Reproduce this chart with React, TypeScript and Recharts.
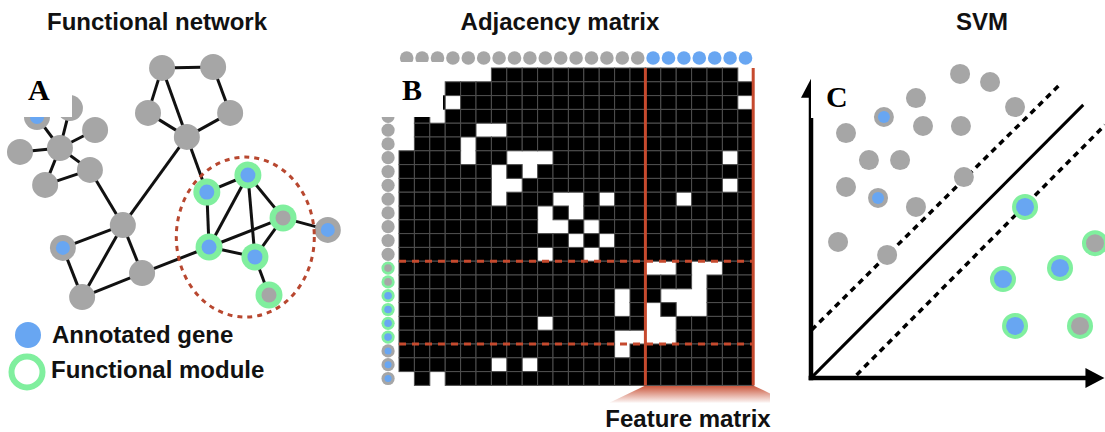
import React from 'react';
import {
  ScatterChart,
  Scatter,
  XAxis,
  YAxis,
  ReferenceLine,
  ReferenceDot,
  ReferenceArea,
} from 'recharts';

const GRAY = '#a6a6a6';
const BLUE = '#68a6f2';
const GREEN = '#80ef9e';
const RED = '#c64a2e';

// kinds: g = gray gene, gb = annotated gene outside module,
// mb = module + annotated, mg = module, not annotated, b = annotated (column header)

// Panel A: functional network, layout units 0-100
const netNodes = [
  { id: 1, x: 43.8, y: 9.3, kind: 'g' },
  { id: 2, x: 57.6, y: 9.0, kind: 'g' },
  { id: 3, x: 40.0, y: 24.3, kind: 'g' },
  { id: 4, x: 62.2, y: 24.3, kind: 'g' },
  { id: 5, x: 50.5, y: 32.3, kind: 'g' },
  { id: 6, x: 18.9, y: 22.7, kind: 'g' },
  { id: 7, x: 10.0, y: 25.7, kind: 'gb' },
  { id: 8, x: 25.7, y: 30.0, kind: 'g' },
  { id: 9, x: 5.4, y: 37.3, kind: 'g' },
  { id: 10, x: 16.2, y: 36.0, kind: 'g' },
  { id: 11, x: 24.3, y: 43.3, kind: 'g' },
  { id: 12, x: 12.2, y: 48.3, kind: 'g' },
  { id: 13, x: 33.2, y: 61.7, kind: 'g' },
  { id: 14, x: 17.0, y: 69.3, kind: 'gb' },
  { id: 15, x: 38.4, y: 77.7, kind: 'g' },
  { id: 16, x: 22.2, y: 85.7, kind: 'g' },
  { id: 17, x: 55.9, y: 50.7, kind: 'mb' },
  { id: 18, x: 67.0, y: 45.0, kind: 'mb' },
  { id: 19, x: 76.5, y: 59.3, kind: 'mg' },
  { id: 20, x: 56.5, y: 69.0, kind: 'mb' },
  { id: 21, x: 68.9, y: 72.3, kind: 'mb' },
  { id: 22, x: 72.7, y: 85.0, kind: 'mg' },
  { id: 23, x: 88.6, y: 63.3, kind: 'gb' },
];

const netEdges = [
  [1, 2], [1, 3], [1, 5], [2, 4], [4, 5], [3, 5], [5, 13], [5, 17],
  [10, 6], [10, 7], [10, 8], [10, 9], [10, 11], [10, 12], [12, 11], [11, 13],
  [13, 14], [13, 16], [13, 15], [14, 16], [15, 16], [15, 20],
  [17, 18], [17, 20], [18, 20], [18, 21], [18, 19], [20, 19], [20, 21],
  [21, 19], [21, 22], [19, 23],
];

const moduleCenter = { x: 66.3, y: 65.7 };

// Panel B: adjacency matrix, 1 = white cell, 0 = black cell
const matrixRows = [
  '11111100000000000000001',
  '11100000000000000000000',
  '11010000000000000000001',
  '10100000000000000000000',
  '10000110000000000000000',
  '10001000000000000000000',
  '00001001110000000000010',
  '00000010100000000000000',
  '00000011000000000000010',
  '00000010001101000010000',
  '00000000010100000000000',
  '00000000011010000000000',
  '00000000000101000000000',
  '00000000010010000000000',
  '00000000000000001101100',
  '00000000000000000001000',
  '00000000000000100111000',
  '00000000000000101011000',
  '00000000010000001100000',
  '00000000000000111100000',
  '00000000000000100000000',
  '00000010100000000000000',
  '10100000000000000000000',
];
const colKinds = [
  'g', 'g', 'g', 'g', 'g', 'g', 'g', 'g', 'g', 'g', 'g', 'g', 'g', 'g', 'g', 'g',
  'b', 'b', 'b', 'b', 'b', 'b', 'b',
];
const rowKinds = [
  'g', 'g', 'g', 'g', 'g', 'g', 'g', 'g', 'g', 'g', 'g', 'g', 'g', 'g',
  'mg', 'mg', 'mb', 'mb', 'mb', 'mb', 'gb', 'gb', 'gb',
];
const featureStart = 16;
const moduleRows = [14, 20];

// Panel C: SVM feature space, units 0-10
const svmPoints = [
  { x: 5.07, y: 9.81, kind: 'g' },
  { x: 6.09, y: 9.55, kind: 'g' },
  { x: 3.57, y: 9.03, kind: 'g' },
  { x: 6.94, y: 8.74, kind: 'g' },
  { x: 1.19, y: 7.9, kind: 'g' },
  { x: 2.48, y: 8.42, kind: 'gb' },
  { x: 3.81, y: 8.13, kind: 'g' },
  { x: 5.1, y: 8.13, kind: 'g' },
  { x: 1.97, y: 7.03, kind: 'g' },
  { x: 3.03, y: 7.03, kind: 'g' },
  { x: 1.19, y: 6.16, kind: 'g' },
  { x: 2.28, y: 5.81, kind: 'gb' },
  { x: 5.2, y: 6.48, kind: 'g' },
  { x: 3.57, y: 5.52, kind: 'g' },
  { x: 0.92, y: 4.39, kind: 'g' },
  { x: 2.59, y: 3.97, kind: 'g' },
  { x: 7.28, y: 5.52, kind: 'mb' },
  { x: 9.66, y: 4.35, kind: 'mg' },
  { x: 8.47, y: 3.55, kind: 'mb' },
  { x: 6.53, y: 3.19, kind: 'mb' },
  { x: 6.94, y: 1.68, kind: 'mb' },
  { x: 9.15, y: 1.68, kind: 'mg' },
];
const hyperplane = [{ x: 0.03, y: 0.03 }, { x: 9.26, y: 8.81 }];
const marginUpper = [{ x: 0.02, y: 1.55 }, { x: 8.53, y: 9.53 }];
const marginLower = [{ x: 1.55, y: 0.1 }, { x: 10, y: 8.16 }];

// matrix geometry
const B_W = 369.6;
const B_H = 331.2;
const CELL_W = B_W / 24;
const CELL_H = B_H / 24;

const matrixCells = matrixRows.flatMap((row, r) =>
  row.split('').map((v, c) => ({ x: c + 0.5, y: r + 0.5, v })).filter((d) => d.v === '0')
);
const topDots = colKinds.map((kind, c) => ({ x: c + 0.5, y: -0.72, kind }));
const sideDots = rowKinds.map((kind, r) => ({ x: -0.71, y: r + 0.5, kind }));

const nodeShape = (rGray: number, rMod: number, inGb: number, inMod: number) => (p: any) => {
  const { cx, cy, payload } = p;
  const k = payload.kind;
  const isMod = k === 'mb' || k === 'mg';
  const outer = isMod ? GREEN : k === 'b' ? BLUE : GRAY;
  const core = k === 'mb' || k === 'gb' ? BLUE : k === 'mg' ? GRAY : null;
  return (
    <g>
      <circle cx={cx} cy={cy} r={isMod ? rMod : rGray} fill={outer} />
      {core && <circle cx={cx} cy={cy} r={isMod ? inMod : inGb} fill={core} />}
    </g>
  );
};

const noDot = () => <g />;

const cellShape = (p: any) => (
  <rect
    x={p.cx - CELL_W / 2}
    y={p.cy - CELL_H / 2}
    width={CELL_W}
    height={CELL_H}
    fill="#000"
    stroke="#4f4f4f"
    strokeWidth={1}
  />
);

const fanShape = (p: any) => {
  const { x, y, width, height } = p;
  return (
    <g>
      <defs>
        <linearGradient id="fan" x1="0" y1="0" x2="0" y2="1">
          <stop offset="0%" stopColor={RED} stopOpacity={0.95} />
          <stop offset="100%" stopColor={RED} stopOpacity={0.05} />
        </linearGradient>
      </defs>
      <polygon
        points={`${x},${y} ${x + width},${y} ${x + width + 36},${y + height} ${x - 36},${y + height}`}
        fill="url(#fan)"
      />
    </g>
  );
};

const titleStyle = (cx: number, top: number): React.CSSProperties => ({
  position: 'absolute',
  left: cx - 200,
  width: 400,
  top,
  textAlign: 'center',
  fontSize: 24,
  lineHeight: '24px',
  fontWeight: 'bold',
  color: '#111',
});

const labelBox = (left: number, top: number, w: number, h: number): React.CSSProperties => ({
  position: 'absolute',
  left,
  top,
  width: w,
  height: h,
  background: '#fff',
});

const labelText = (left: number, top: number): React.CSSProperties => ({
  position: 'absolute',
  left,
  top,
  fontFamily: '"Liberation Serif", "Times New Roman", serif',
  fontWeight: 'bold',
  fontSize: 30,
  lineHeight: '30px',
  color: '#000',
});

export default function App() {
  const byId: Record<number, any> = {};
  netNodes.forEach((n) => (byId[n.id] = n));

  return (
    <div
      style={{
        position: 'absolute',
        left: 0,
        top: 0,
        width: 1105,
        height: 432,
        background: '#fff',
        overflow: 'hidden',
        fontFamily: '"Liberation Sans", Arial, sans-serif',
      }}
    >
      {/* A: network */}
      <div style={{ position: 'absolute', left: 0, top: 40 }}>
        <ScatterChart width={370} height={300} margin={{ top: 0, right: 0, bottom: 0, left: 0 }}>
          <XAxis type="number" dataKey="x" domain={[0, 100]} hide />
          <YAxis type="number" dataKey="y" domain={[0, 100]} reversed hide />
          {netEdges.map(([a, b], i) => (
            <Scatter
              key={'e' + i}
              data={[byId[a], byId[b]]}
              line={{ stroke: '#111', strokeWidth: 3 }}
              shape={noDot}
              isAnimationActive={false}
            />
          ))}
          <Scatter data={netNodes} shape={nodeShape(13, 13.5, 7, 7.5)} isAnimationActive={false} />
          <ReferenceDot
            x={moduleCenter.x}
            y={moduleCenter.y}
            shape={(p: any) => (
              <ellipse
                cx={p.cx}
                cy={p.cy}
                rx={69}
                ry={80}
                fill="none"
                stroke="#b8472f"
                strokeWidth={3}
                strokeDasharray="5 5"
              />
            )}
          />
        </ScatterChart>
      </div>

      {/* B: adjacency matrix */}
      <div style={{ position: 'absolute', left: 370, top: 40 }}>
        <ScatterChart
          width={400}
          height={392}
          margin={{ top: 14.2, right: 16.8, bottom: 46.6, left: 13.6 }}
        >
          <XAxis type="number" dataKey="x" domain={[-1, 23]} hide />
          <YAxis type="number" dataKey="y" domain={[-1, 23]} reversed hide />
          <Scatter data={matrixCells} shape={cellShape} isAnimationActive={false} />
          <Scatter data={topDots} shape={nodeShape(6.8, 6.8, 3.5, 3.8)} isAnimationActive={false} />
          <Scatter data={sideDots} shape={nodeShape(6.6, 6.6, 3.5, 3.8)} isAnimationActive={false} />
          {moduleRows.map((r) => (
            <Scatter
              key={'h' + r}
              data={[{ x: 0, y: r }, { x: 23, y: r }]}
              line={{ stroke: RED, strokeWidth: 3, strokeDasharray: '7 6' }}
              shape={noDot}
              isAnimationActive={false}
            />
          ))}
          {[featureStart, 23].map((c) => (
            <Scatter
              key={'v' + c}
              data={[{ x: c, y: 0 }, { x: c, y: 23 }]}
              line={{ stroke: RED, strokeWidth: 3 }}
              shape={noDot}
              isAnimationActive={false}
            />
          ))}
          <ReferenceArea
            x1={featureStart}
            x2={23}
            y1={23}
            y2={24.25}
            ifOverflow="visible"
            shape={fanShape}
          />
        </ScatterChart>
      </div>

      {/* C: SVM */}
      <div style={{ position: 'absolute', left: 790, top: 40 }}>
        <ScatterChart width={315} height={392} margin={{ top: 28, right: 0, bottom: 54, left: 21 }}>
          <XAxis type="number" dataKey="x" domain={[0, 10]} hide />
          <YAxis type="number" dataKey="y" domain={[0, 10]} hide />
          <Scatter data={hyperplane} line={{ stroke: '#000', strokeWidth: 3 }} shape={noDot} isAnimationActive={false} />
          <Scatter
            data={marginUpper}
            line={{ stroke: '#000', strokeWidth: 3.5, strokeDasharray: '6 5' }}
            shape={noDot}
            isAnimationActive={false}
          />
          <Scatter
            data={marginLower}
            line={{ stroke: '#000', strokeWidth: 3.5, strokeDasharray: '6 5' }}
            shape={noDot}
            isAnimationActive={false}
          />
          <Scatter data={svmPoints} shape={nodeShape(10, 13, 6, 9)} isAnimationActive={false} />
          <ReferenceLine
            segment={[{ x: 0, y: -0.07 }, { x: 0, y: 9.1 }]}
            stroke="#000"
            strokeWidth={4.5}
            ifOverflow="visible"
          />
          <ReferenceLine
            segment={[{ x: -0.08, y: 0 }, { x: 9.45, y: 0 }]}
            stroke="#000"
            strokeWidth={4.5}
            ifOverflow="visible"
          />
          <ReferenceDot
            x={0}
            y={9.65}
            ifOverflow="visible"
            shape={(p: any) => (
              <polygon points={`${p.cx},${p.cy} ${p.cx - 10},${p.cy + 19} ${p.cx + 10},${p.cy + 19}`} fill="#000" />
            )}
          />
          <ReferenceDot
            x={9.98}
            y={0}
            ifOverflow="visible"
            shape={(p: any) => (
              <polygon points={`${p.cx},${p.cy} ${p.cx - 19},${p.cy - 10} ${p.cx - 19},${p.cy + 10}`} fill="#000" />
            )}
          />
        </ScatterChart>
      </div>

      {/* titles */}
      <div style={titleStyle(157, 10)}>Functional network</div>
      <div style={titleStyle(560, 10)}>Adjacency matrix</div>
      <div style={titleStyle(982, 10)}>SVM</div>
      <div style={titleStyle(688, 407)}>Feature matrix</div>

      {/* legend */}
      <svg style={{ position: 'absolute', left: 0, top: 310 }} width={50} height={90}>
        <circle cx={28} cy={25} r={13} fill={BLUE} />
        <circle cx={27} cy={62} r={15.5} fill="#fff" stroke={GREEN} strokeWidth={6} />
      </svg>
      <div style={{ position: 'absolute', left: 52, top: 323, fontSize: 24, lineHeight: '24px', fontWeight: 'bold', color: '#111' }}>
        Annotated gene
      </div>
      <div style={{ position: 'absolute', left: 51, top: 358, fontSize: 24, lineHeight: '24px', fontWeight: 'bold', color: '#111' }}>
        Functional module
      </div>

      {/* panel letters */}
      <div style={labelBox(23, 77, 49, 40)} />
      <div style={labelText(28, 75)}>A</div>
      <div style={labelBox(378, 62, 65, 55)} />
      <div style={labelText(402, 75)}>B</div>
      <div style={labelBox(810.5, 77, 43, 41)} />
      <div style={labelText(826, 82)}>C</div>
    </div>
  );
}
